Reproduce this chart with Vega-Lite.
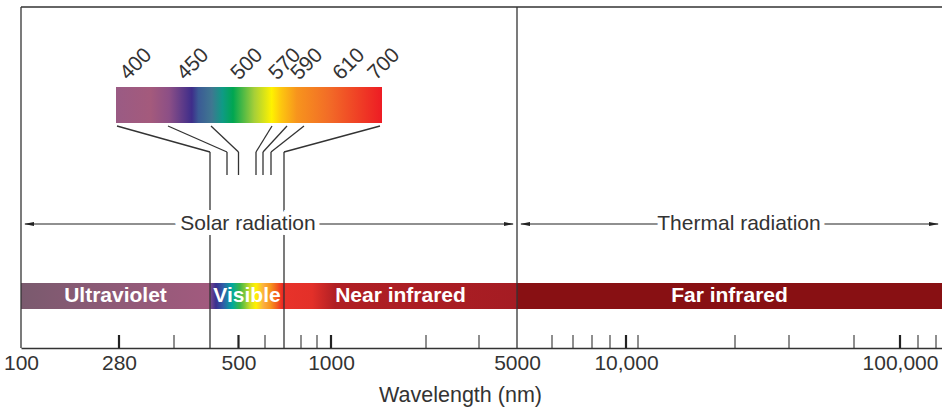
{
  "$schema": "https://vega.github.io/schema/vega-lite/v6.json",
  "width": 921,
  "height": 341,
  "autosize": "none",
  "padding": {"left": 21, "top": 7, "right": 0, "bottom": 63},
  "background": "white",
  "config": {"view": {"stroke": null}, "font": "Liberation Sans"},
  "datasets": {
    "bands": [
      {"band": "Ultraviolet", "from": 100, "to": 400},
      {"band": "Visible", "from": 400, "to": 700},
      {"band": "Near infrared", "from": 700, "to": 5000},
      {"band": "Far infrared", "from": 5000, "to": 400000}
    ],
    "ticks": [
      {"nm": 280, "kind": "major"}, {"nm": 350, "kind": "minor"}, {"nm": 500, "kind": "major"},
      {"nm": 600, "kind": "minor"}, {"nm": 800, "kind": "minor"}, {"nm": 900, "kind": "minor"},
      {"nm": 1000, "kind": "major"}, {"nm": 2000, "kind": "minor"}, {"nm": 3000, "kind": "minor"},
      {"nm": 6000, "kind": "minor"}, {"nm": 7000, "kind": "minor"}, {"nm": 8000, "kind": "minor"},
      {"nm": 9000, "kind": "minor"}, {"nm": 10000, "kind": "major"}, {"nm": 11000, "kind": "minor"},
      {"nm": 20000, "kind": "minor"}, {"nm": 30000, "kind": "minor"}, {"nm": 50000, "kind": "minor"},
      {"nm": 100000, "kind": "major"}, {"nm": 200000, "kind": "minor"}, {"nm": 300000, "kind": "minor"}
    ],
    "spectrum": [
      {"nm": 400, "edge": true}, {"nm": 450, "edge": false}, {"nm": 500, "edge": false},
      {"nm": 570, "edge": false}, {"nm": 590, "edge": false}, {"nm": 610, "edge": false},
      {"nm": 700, "edge": true}
    ],
    "frame": [{"nm": 100}, {"nm": 5000}],
    "top": [{"from": 100, "to": 400000}],
    "arrows": [
      {"label": "Solar radiation", "from": 100, "to": 5000},
      {"label": "Thermal radiation", "from": 5000, "to": 400000}
    ],
    "visible": [{"from": 400, "to": 700}]
  },
  "layer": [
    {
      "name": "main",
      "layer": [
        {
          "data": {"name": "bands"},
          "transform": [{"filter": "datum.band == 'Ultraviolet'"}],
          "mark": {"type": "rect", "fill": {"gradient": "linear", "x1": 0, "x2": 1, "y1": 0, "y2": 0, "stops": [
            {"offset": 0, "color": "#7a5a6e"}, {"offset": 0.5, "color": "#8f5a77"}, {"offset": 1, "color": "#a25a7e"}]}},
          "encoding": {
            "x": {"field": "from", "type": "quantitative",
              "scale": {"type": "linear", "nice": false, "zero": false,
                "domain": [100, 280, 350, 400, 450, 500, 570, 590, 600, 610, 700, 800, 900, 1000, 2000, 3000, 5000, 6000, 7000, 8000, 9000, 10000, 11000, 20000, 30000, 50000, 100000, 200000, 300000, 400000],
                "range": [0, 98, 153, 189, 206, 217.5, 235, 242, 244, 250, 263, 280, 296, 310, 405, 458, 496, 531, 552, 571, 589, 605, 617, 714, 768, 833, 879, 897, 915, 921]},
              "axis": {"values": [100, 280, 500, 1000, 5000, 10000, 100000],
                "labelExpr": "datum.value >= 10000 ? format(datum.value, ',') : '' + datum.value",
                "ticks": false, "grid": false, "domainColor": "#333", "domainWidth": 1.5,
                "labelFontSize": 21, "labelColor": "#333", "labelPadding": 4, "labelOverlap": false, "labelFlush": false,
                "title": "Wavelength (nm)", "titleFontSize": 21.5, "titleFontWeight": "normal", "titleColor": "#333",
                "titleX": 439, "titlePadding": 11}},
            "x2": {"field": "to"},
            "y": {"datum": 39, "type": "quantitative", "scale": {"domain": [0, 341], "nice": false, "zero": false}, "axis": null},
            "y2": {"datum": 65}
          }
        },
        {
          "data": {"name": "bands"},
          "transform": [{"filter": "datum.band == 'Visible'"}],
          "mark": {"type": "rect", "fill": {"gradient": "linear", "x1": 0, "x2": 1, "y1": 0, "y2": 0, "stops": [
            {"offset": 0, "color": "#7b4a8c"}, {"offset": 0.08, "color": "#3a2f8f"}, {"offset": 0.18, "color": "#2e5ea8"},
            {"offset": 0.3, "color": "#00a99d"}, {"offset": 0.4, "color": "#39b54a"}, {"offset": 0.55, "color": "#d7df23"},
            {"offset": 0.62, "color": "#fff200"}, {"offset": 0.72, "color": "#fbb040"}, {"offset": 0.82, "color": "#f7941d"},
            {"offset": 1, "color": "#ed1c24"}]}},
          "encoding": {
            "x": {"field": "from", "type": "quantitative"},
            "x2": {"field": "to"},
            "y": {"datum": 39, "type": "quantitative", "axis": null},
            "y2": {"datum": 65}
          }
        },
        {
          "data": {"name": "bands"},
          "transform": [{"filter": "datum.band == 'Near infrared'"}],
          "mark": {"type": "rect", "fill": {"gradient": "linear", "x1": 0, "x2": 1, "y1": 0, "y2": 0, "stops": [
            {"offset": 0, "color": "#e8322a"}, {"offset": 0.12, "color": "#e33029"}, {"offset": 0.22, "color": "#b01f24"},
            {"offset": 1, "color": "#a51c23"}]}},
          "encoding": {
            "x": {"field": "from", "type": "quantitative"},
            "x2": {"field": "to"},
            "y": {"datum": 39, "type": "quantitative", "axis": null},
            "y2": {"datum": 65}
          }
        },
        {
          "data": {"name": "bands"},
          "transform": [{"filter": "datum.band == 'Far infrared'"}],
          "mark": {"type": "rect", "fill": "#881013"},
          "encoding": {
            "x": {"field": "from", "type": "quantitative"},
            "x2": {"field": "to"},
            "y": {"datum": 39, "type": "quantitative", "axis": null},
            "y2": {"datum": 65}
          }
        },
        {
          "data": {"name": "bands"},
          "mark": {"type": "text", "color": "white", "fontWeight": "bold", "fontSize": 21, "baseline": "middle", "align": "center"},
          "encoding": {
            "x": {"value": {"expr": "(scale('main_x', datum.from) + scale('main_x', datum.to)) / 2"}},
            "y": {"datum": 52, "type": "quantitative", "axis": null},
            "text": {"field": "band"}
          }
        },
        {
          "data": {"name": "top"},
          "mark": {"type": "rule", "color": "#333", "strokeWidth": 1.5},
          "encoding": {
            "x": {"field": "from", "type": "quantitative"},
            "x2": {"field": "to"},
            "y": {"datum": 341, "type": "quantitative", "axis": null}
          }
        },
        {
          "data": {"name": "frame"},
          "mark": {"type": "rule", "color": "#333", "strokeWidth": 1.3},
          "encoding": {
            "x": {"field": "nm", "type": "quantitative"},
            "y": {"datum": 0, "type": "quantitative", "axis": null},
            "y2": {"datum": 341}
          }
        },
        {
          "data": {"name": "ticks"},
          "transform": [{"filter": "datum.kind == 'minor'"}],
          "mark": {"type": "rule", "color": "#333", "strokeWidth": 1.1},
          "encoding": {
            "x": {"field": "nm", "type": "quantitative"},
            "y": {"datum": 0, "type": "quantitative", "axis": null},
            "y2": {"datum": 13}
          }
        },
        {
          "data": {"name": "ticks"},
          "transform": [{"filter": "datum.kind == 'major'"}],
          "mark": {"type": "rule", "color": "#222", "strokeWidth": 2.2},
          "encoding": {
            "x": {"field": "nm", "type": "quantitative"},
            "y": {"datum": 0, "type": "quantitative", "axis": null},
            "y2": {"datum": 13}
          }
        },
        {
          "data": {"name": "spectrum"},
          "transform": [{"filter": "datum.edge"}],
          "mark": {"type": "rule", "color": "#333", "strokeWidth": 1.3},
          "encoding": {
            "x": {"field": "nm", "type": "quantitative"},
            "y": {"datum": 0, "type": "quantitative", "axis": null},
            "y2": {"datum": 196}
          }
        },
        {
          "data": {"name": "spectrum"},
          "transform": [{"filter": "!datum.edge"}],
          "mark": {"type": "rule", "color": "#333", "strokeWidth": 1.3},
          "encoding": {
            "x": {"field": "nm", "type": "quantitative"},
            "y": {"datum": 173, "type": "quantitative", "axis": null},
            "y2": {"datum": 196}
          }
        },
        {
          "data": {"name": "arrows"},
          "mark": {"type": "rule", "color": "#222", "strokeWidth": 1.2, "xOffset": 4, "x2Offset": -4},
          "encoding": {
            "x": {"field": "from", "type": "quantitative"},
            "x2": {"field": "to"},
            "y": {"datum": 124, "type": "quantitative", "axis": null}
          }
        },
        {
          "data": {"name": "arrows"},
          "mark": {"type": "point", "filled": true, "color": "#222", "opacity": 1, "size": 100, "shape": "M -1 0 L 1 -0.38 L 1 0.38 Z", "xOffset": 8},
          "encoding": {
            "x": {"field": "from", "type": "quantitative"},
            "y": {"datum": 124, "type": "quantitative", "axis": null}
          }
        },
        {
          "data": {"name": "arrows"},
          "mark": {"type": "point", "filled": true, "color": "#222", "opacity": 1, "size": 100, "shape": "M 1 0 L -1 -0.38 L -1 0.38 Z", "xOffset": -8},
          "encoding": {
            "x": {"field": "to", "type": "quantitative"},
            "y": {"datum": 124, "type": "quantitative", "axis": null}
          }
        },
        {
          "data": {"name": "arrows"},
          "mark": {"type": "text", "fontSize": 21, "color": "white", "stroke": "white", "strokeWidth": 10, "baseline": "middle", "align": "center"},
          "encoding": {
            "x": {"value": {"expr": "(scale('main_x', datum.from) + scale('main_x', datum.to)) / 2 + (datum.from == 100 ? -21 : 9.5)"}},
            "y": {"datum": 124, "type": "quantitative", "axis": null},
            "text": {"field": "label"}
          }
        },
        {
          "data": {"name": "arrows"},
          "mark": {"type": "text", "fontSize": 21, "color": "#333", "baseline": "middle", "align": "center"},
          "encoding": {
            "x": {"value": {"expr": "(scale('main_x', datum.from) + scale('main_x', datum.to)) / 2 + (datum.from == 100 ? -21 : 9.5)"}},
            "y": {"datum": 124, "type": "quantitative", "axis": null},
            "text": {"field": "label"}
          }
        }
      ]
    },
    {
      "name": "inset",
      "layer": [
        {
          "data": {"name": "visible"},
          "mark": {"type": "rect", "xOffset": -1, "x2Offset": 2, "fill": {"gradient": "linear", "x1": 0, "x2": 1, "y1": 0, "y2": 0, "stops": [
            {"offset": 0, "color": "#9a5b84"}, {"offset": 0.13, "color": "#a45a7c"}, {"offset": 0.2, "color": "#8c4f86"},
            {"offset": 0.285, "color": "#3e2d8a"}, {"offset": 0.31, "color": "#3b5a95"}, {"offset": 0.36, "color": "#3f7791"},
            {"offset": 0.4, "color": "#0f9a85"}, {"offset": 0.44, "color": "#00a651"}, {"offset": 0.52, "color": "#a6cf38"},
            {"offset": 0.585, "color": "#fff200"}, {"offset": 0.62, "color": "#fdc70f"}, {"offset": 0.68, "color": "#f7941d"},
            {"offset": 0.8, "color": "#f26c27"}, {"offset": 1, "color": "#ed1c24"}]}},
          "encoding": {
            "x": {"field": "from", "type": "quantitative",
              "scale": {"type": "linear", "nice": false, "zero": false,
                "domain": [400, 450, 500, 570, 590, 610, 700],
                "range": [96, 147, 190, 251, 266, 283, 359]},
              "axis": null},
            "x2": {"field": "to"},
            "y": {"datum": 225, "type": "quantitative", "axis": null},
            "y2": {"datum": 261}
          }
        },
        {
          "data": {"name": "spectrum"},
          "mark": {"type": "rule", "color": "#333", "strokeWidth": 1.3},
          "encoding": {
            "x": {"field": "nm", "type": "quantitative", "axis": null},
            "x2": {"value": {"expr": "scale('main_x', datum.nm)"}},
            "y": {"datum": 222, "type": "quantitative", "axis": null},
            "y2": {"datum": 196}
          }
        }
      ]
    },
    {
      "name": "labels",
      "data": {"name": "spectrum"},
      "mark": {"type": "text", "fontSize": 21, "color": "#333", "angle": 315, "align": "left", "baseline": "alphabetic"},
      "encoding": {
        "x": {"field": "nm", "type": "quantitative",
          "scale": {"type": "linear", "nice": false, "zero": false,
            "domain": [400, 450, 500, 570, 590, 610, 700],
            "range": [107, 164, 218, 256, 278, 320, 355]},
          "axis": null},
        "y": {"datum": 267, "type": "quantitative", "axis": null},
        "text": {"field": "nm", "type": "quantitative", "format": "d"}
      }
    }
  ],
  "resolve": {"scale": {"x": "independent"}}
}
